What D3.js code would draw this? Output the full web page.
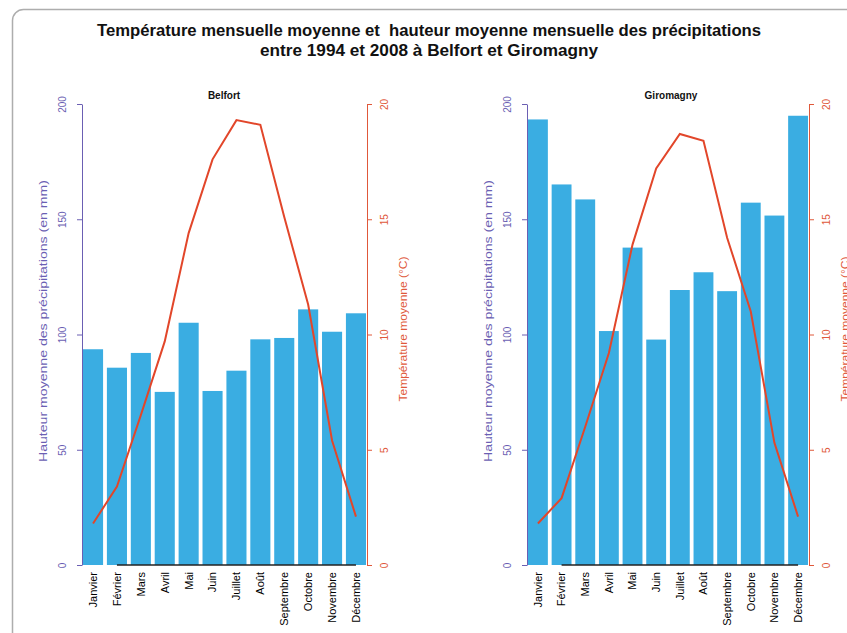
<!DOCTYPE html>
<html>
<head>
<meta charset="utf-8">
<script src="https://cdn.jsdelivr.net/npm/d3@7"></script>
<style>
body { margin: 0; background: #fff; }
svg { display: block; font-family: "Liberation Sans", Arial, sans-serif; }
</style>
</head>
<body>
<div id="chart"></div>
<script>
// DATA
var months = ["Janvier", "Février", "Mars", "Avril", "Mai", "Juin", "Juillet", "Août",
  "Septembre", "Octobre", "Novembre", "Décembre"];
var precipBelfort = [93.6, 85.6, 92, 75.1, 105.1, 75.5, 84.3, 97.9, 98.5, 110.9, 101.2, 109.2];
var tempBelfort = [1.8, 3.4, 6.5, 9.7, 14.4, 17.6, 19.3, 19.1, 15.1, 11.3, 5.4, 2.1];
var precipGiromagny = [193.3, 165.1, 158.6, 101.5, 137.7, 97.8, 119.3, 127, 118.8, 157.2, 151.6, 194.9];
var tempGiromagny = [1.8, 2.9, 6.0, 9.2, 13.9, 17.2, 18.7, 18.4, 14.2, 11.0, 5.3, 2.1];
var precipTicks = [0, 50, 100, 150, 200];
var tempTicks = [0, 5, 10, 15, 20];

// SET UP DIMENSIONS
var w = 847,
    h = 633;
var plotTop = 104,
    plotBottom = 565;

var colBar = "#3aade2",
    colLine = "#e2462a",
    colPrecip = "#6b5fb3",
    colTemp = "#e0583a";

var svg = d3.select('#chart').append('svg')
  .attr('width', w)
  .attr('height', h);

// frame round the figure
svg.append('rect')
  .attr('x', 12.5).attr('y', 9.5)
  .attr('width', 900).attr('height', 700)
  .attr('rx', 11)
  .attr('fill', '#fff')
  .attr('stroke', '#adadad')
  .attr('stroke-width', 1.5);

// main title
var title = svg.append('text')
  .attr('text-anchor', 'middle')
  .attr('font-weight', 'bold')
  .attr('font-size', 16)
  .attr('fill', '#111')
  .style('white-space', 'pre');
title.append('tspan').attr('x', 429).attr('y', 36)
  .attr('textLength', 664).attr('lengthAdjust', 'spacingAndGlyphs')
  .text("Température mensuelle moyenne et  hauteur moyenne mensuelle des précipitations");
title.append('tspan').attr('x', 429).attr('y', 56)
  .attr('textLength', 338).attr('lengthAdjust', 'spacingAndGlyphs')
  .text("entre 1994 et 2008 à Belfort et Giromagny");

var panels = [
  { name: "Belfort", precip: precipBelfort, temp: tempBelfort, left: 83, right: 366, titleX: 224 },
  { name: "Giromagny", precip: precipGiromagny, temp: tempGiromagny, left: 528, right: 808, titleX: 671 }
];

panels.forEach(drawPanel);

function drawPanel(p) {
  var x = d3.scaleBand()
    .domain(months)
    .range([p.left, p.right])
    .paddingInner(0.16)
    .paddingOuter(0);

  var yP = d3.scaleLinear().domain([0, 200]).range([plotBottom, plotTop]);
  var yT = d3.scaleLinear().domain([0, 20]).range([plotBottom, plotTop]);

  var g = svg.append('g').attr('class', 'panel');

  // bars (precipitation)
  g.selectAll('.bar')
    .data(p.precip)
    .enter().append('rect')
      .attr('class', 'bar')
      .attr('x', function(d, i) { return x(months[i]); })
      .attr('y', function(d) { return yP(d); })
      .attr('width', x.bandwidth())
      .attr('height', function(d) { return yP(0) - yP(d); })
      .attr('fill', colBar);

  // x axis line, from second to last month like the original
  g.append('line')
    .attr('x1', x(months[1]) + x.bandwidth() / 2)
    .attr('x2', x(months[11]) + x.bandwidth() / 2)
    .attr('y1', plotBottom).attr('y2', plotBottom)
    .attr('stroke', '#222')
    .attr('stroke-width', 1.5);

  // temperature line
  var line = d3.line()
    .x(function(d, i) { return x(months[i]) + x.bandwidth() / 2; })
    .y(function(d) { return yT(d); });

  g.append('path')
    .datum(p.temp)
    .attr('d', line)
    .attr('fill', 'none')
    .attr('stroke', colLine)
    .attr('stroke-width', 2);

  // left axis (precipitation)
  var axL = g.append('g')
    .attr('transform', 'translate(' + (p.left - 1) + ',0)')
    .call(d3.axisLeft(yP).tickValues(precipTicks).tickSize(5).tickSizeOuter(0));
  axL.select('.domain').attr('stroke', colPrecip);
  axL.selectAll('.tick line').attr('stroke', colPrecip);
  axL.selectAll('.tick text')
    .attr('transform', 'rotate(-90)')
    .attr('x', 0).attr('y', -16).attr('dy', 0)
    .attr('text-anchor', 'middle')
    .attr('fill', colPrecip)
    .attr('font-size', 10)
    .attr('font-family', null);

  // right axis (temperature)
  var axR = g.append('g')
    .attr('transform', 'translate(' + (p.right + 1) + ',0)')
    .call(d3.axisRight(yT).tickValues(tempTicks).tickSize(5).tickSizeOuter(0));
  axR.select('.domain').attr('stroke', colTemp);
  axR.selectAll('.tick line').attr('stroke', colTemp);
  axR.selectAll('.tick text')
    .attr('transform', 'rotate(-90)')
    .attr('x', 0).attr('y', 21).attr('dy', 0)
    .attr('text-anchor', 'middle')
    .attr('fill', colTemp)
    .attr('font-size', 10)
    .attr('font-family', null);

  // month labels
  g.selectAll('.month')
    .data(months)
    .enter().append('text')
      .attr('class', 'month')
      .attr('transform', function(d) {
        return 'translate(' + (x(d) + x.bandwidth() / 2) + ',' + (plotBottom + 7) + ') rotate(-90)';
      })
      .attr('dy', '0.35em')
      .attr('text-anchor', 'end')
      .attr('font-size', 11)
      .attr('fill', '#000')
      .text(function(d) { return d; });

  // axis titles
  g.append('text')
    .attr('transform', 'translate(' + (p.left - 36) + ',321) rotate(-90)')
    .attr('text-anchor', 'middle')
    .attr('font-size', 11.5)
    .attr('textLength', 282).attr('lengthAdjust', 'spacingAndGlyphs')
    .attr('fill', colPrecip)
    .text("Hauteur moyenne des précipitations (en mm)");

  g.append('text')
    .attr('transform', 'translate(' + (p.right + 41) + ',329) rotate(-90)')
    .attr('text-anchor', 'middle')
    .attr('font-size', 11.5)
    .attr('textLength', 145).attr('lengthAdjust', 'spacingAndGlyphs')
    .attr('fill', colTemp)
    .text("Température moyenne (°C)");

  // panel title
  g.append('text')
    .attr('x', p.titleX).attr('y', 99)
    .attr('text-anchor', 'middle')
    .attr('font-weight', 'bold')
    .attr('font-size', 10)
    .attr('fill', '#111')
    .text(p.name);
}
</script>
</body>
</html>
